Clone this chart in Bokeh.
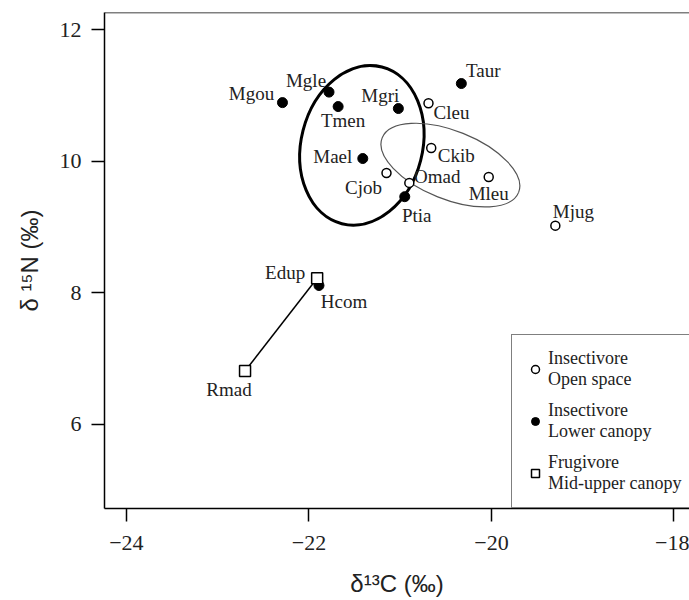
from bokeh.plotting import figure
from bokeh.models import Range1d, FixedTicker, Span, Legend, LegendItem, ColumnDataSource
from bokeh.embed import file_html
from bokeh.resources import INLINE
from bokeh.core.properties import value

# ---- data ----
open_sp = ["Cleu", "Ckib", "Cjob", "Omad", "Mleu", "Mjug"]
open_c = [-20.69, -20.66, -21.15, -20.90, -20.03, -19.30]
open_n = [10.88, 10.20, 9.82, 9.67, 9.76, 9.02]

low_sp = ["Mgou", "Mgle", "Tmen", "Mgri", "Taur", "Mael", "Ptia", "Hcom"]
low_c = [-22.29, -21.78, -21.68, -21.02, -20.33, -21.41, -20.95, -21.89]
low_n = [10.89, 11.05, 10.83, 10.80, 11.18, 10.04, 9.46, 8.11]

fru_sp = ["Edup", "Rmad"]
fru_c = [-21.91, -22.70]
fru_n = [8.22, 6.81]

# ellipses (center x, center y, width, height in data units, angle)
ell_x = [-21.42, -20.45]
ell_y = [10.24, 9.94]
ell_w = [1.33, 1.61]
ell_h = [2.46, 1.04]
ell_a = [-0.25, -0.38]

x_ticks = [-24, -22, -20, -18]
y_ticks = [6, 8, 10, 12]

legend_labels = ["Insectivore\nOpen space", "Insectivore\nLower canopy", "Frugivore\nMid-upper canopy"]

# label offsets in screen px (styling)
open_dx = [23, 25, -23, 28, 0, 18]
open_dy = [9, 7, 14, -6, 17, -14]
low_dx = [-31, -23, 5, -18, 22, -30, 12, 25]
low_dy = [-9, -12, 14, -13, -13, -2, 19, 16]
fru_dx = [-32, -16]
fru_dy = [-6, 18]

SERIF = "Liberation Serif"
SANS = "Liberation Sans"

X0, X1 = -24.24, -17.83
Y0, Y1 = 4.72, 12.26

p = figure(width=689, height=600, output_backend="svg", toolbar_location=None,
           x_range=Range1d(X0, X1), y_range=Range1d(Y0, Y1),
           min_border_left=104, min_border_right=0, min_border_top=12, min_border_bottom=92)
p.xgrid.visible = False
p.ygrid.visible = False
p.outline_line_color = None
p.background_fill_color = "white"
p.border_fill_color = "white"

top_line = Span(location=Y1, dimension="width", line_color="black", line_width=1.5)
p.add_layout(top_line)

for ax, ticks in ((p.xaxis[0], x_ticks), (p.yaxis[0], y_ticks)):
    ax.ticker = FixedTicker(ticks=ticks)
    ax.minor_tick_line_color = None
    ax.major_tick_in = 0
    ax.major_tick_out = 13
    ax.major_tick_line_width = 1.5
    ax.axis_line_width = 1.5
    ax.major_label_text_font = SERIF
    ax.major_label_text_font_size = "22px"
    ax.major_label_text_color = "#222222"
    ax.axis_label_text_font = SANS
    ax.axis_label_text_font_size = "24px"
    ax.axis_label_text_font_style = "normal"
    ax.axis_label_text_color = "#222222"

p.xaxis.axis_label = "δ¹³C (‰)"
p.yaxis.axis_label = "δ ¹⁵N (‰)"
p.xaxis.major_label_standoff = 14
p.xaxis.axis_label_standoff = 17
p.yaxis.major_label_standoff = 10
p.yaxis.axis_label_standoff = 14
p.yaxis.major_label_orientation = "horizontal"

# ellipses
p.ellipse(x=ell_x[0], y=ell_y[0], width=ell_w[0], height=ell_h[0], angle=ell_a[0],
          fill_color=None, line_color="black", line_width=3)
p.ellipse(x=ell_x[1], y=ell_y[1], width=ell_w[1], height=ell_h[1], angle=ell_a[1],
          fill_color=None, line_color="#555555", line_width=1.2)

# frugivore connecting line
p.line(fru_c, fru_n, line_color="black", line_width=1.5)

src_open = ColumnDataSource(dict(x=open_c, y=open_n, t=open_sp, dx=open_dx, dy=open_dy))
src_low = ColumnDataSource(dict(x=low_c, y=low_n, t=low_sp, dx=low_dx, dy=low_dy))
src_fru = ColumnDataSource(dict(x=fru_c, y=fru_n, t=fru_sp, dx=fru_dx, dy=fru_dy))

r_low = p.scatter("x", "y", source=src_low, marker="circle", size=10,
                  fill_color="black", line_color="black")
r_open = p.scatter("x", "y", source=src_open, marker="circle", size=9,
                   fill_color="white", line_color="black", line_width=1.5)
r_fru = p.scatter("x", "y", source=src_fru, marker="square", size=11,
                  fill_color="white", line_color="black", line_width=1.5)

for src in (src_open, src_low, src_fru):
    p.text("x", "y", text="t", source=src, x_offset="dx", y_offset="dy",
           text_align="center", text_baseline="middle",
           text_font=value(SERIF), text_font_size="19px", text_color="#222222")

legend = Legend(items=[LegendItem(label=legend_labels[0], renderers=[r_open]),
                       LegendItem(label=legend_labels[1], renderers=[r_low]),
                       LegendItem(label=legend_labels[2], renderers=[r_fru])],
                location=(407, 0))
legend.border_line_color = "black"
legend.border_line_width = 1.5
legend.background_fill_alpha = 1
legend.label_text_font = SERIF
legend.label_text_font_size = "18px"
legend.label_text_line_height = 1.15
legend.label_text_color = "#222222"
legend.label_standoff = 3
legend.glyph_width = 20
legend.glyph_height = 22
legend.spacing = 10
legend.padding = 13
legend.margin = 0
p.add_layout(legend)

open("out.html", "w").write(file_html(p, INLINE))
